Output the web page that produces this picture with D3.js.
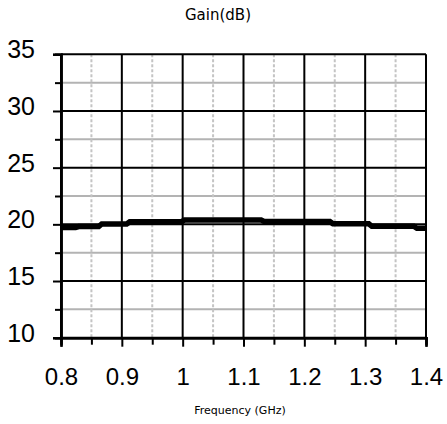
<!DOCTYPE html>
<html><head><meta charset="utf-8">
<script src="https://cdn.jsdelivr.net/npm/d3@7"></script>
<style>html,body{margin:0;padding:0;background:#fff;}svg{display:block;}</style>
</head><body>
<script>
const title = "Gain(dB)";
const xTitle = "Frequency (GHz)";
const xTicks = [0.8, 0.9, 1.0, 1.1, 1.2, 1.3, 1.4];
const xMinorTicks = [0.85, 0.95, 1.05, 1.15, 1.25, 1.35];
const yTicks = [10, 15, 20, 25, 30, 35];
const yMinorTicks = [12.5, 17.5, 22.5, 27.5, 32.5];
const freq = [0.800, 0.824, 0.829, 0.862, 0.867, 0.908, 0.913, 0.998, 1.003, 1.129, 1.134, 1.242, 1.247, 1.306, 1.311, 1.380, 1.385, 1.400];
const gain = [19.72, 19.72, 19.80, 19.80, 20.03, 20.03, 20.23, 20.23, 20.38, 20.38, 20.25, 20.25, 20.05, 20.05, 19.83, 19.83, 19.65, 19.65];

const W = 447, H = 424;
const L = 61, R = 426, T = 54.3, B = 337.7;
const svg = d3.select("body").append("svg").attr("width", W).attr("height", H);
const x = d3.scaleLinear().domain([0.8, 1.4]).range([L, R]);
const y = d3.scaleLinear().domain([10, 35]).range([B, T]);

// minor grids
svg.append("g").selectAll("line").data(yMinorTicks).join("line")
  .attr("x1", L).attr("x2", R).attr("y1", d => y(d)).attr("y2", d => y(d))
  .attr("stroke", "#b3b3b3").attr("stroke-width", 2);
svg.append("g").selectAll("line").data(xMinorTicks).join("line")
  .attr("x1", d => x(d)).attr("x2", d => x(d)).attr("y1", T).attr("y2", B)
  .attr("stroke", "#c4c4c4").attr("stroke-width", 2).attr("stroke-dasharray", "3,2");
// major grids
svg.append("g").selectAll("line").data(yTicks).join("line")
  .attr("x1", L).attr("x2", R).attr("y1", d => y(d)).attr("y2", d => y(d))
  .attr("stroke", "#000").attr("stroke-width", 2);
svg.append("g").selectAll("line").data(xTicks).join("line")
  .attr("x1", d => x(d)).attr("x2", d => x(d)).attr("y1", T).attr("y2", B)
  .attr("stroke", "#000").attr("stroke-width", 2);

// axes
const yAxis = svg.append("g").attr("transform", `translate(${L},0)`)
  .call(d3.axisLeft(y).tickValues(yTicks).tickSize(8).tickFormat(d3.format("d")));
const yAxisMinor = svg.append("g").attr("transform", `translate(${L},0)`)
  .call(d3.axisLeft(y).tickValues(yMinorTicks).tickSize(6).tickFormat(""));
const xAxis = svg.append("g").attr("transform", `translate(0,${B})`)
  .call(d3.axisBottom(x).tickValues(xTicks).tickSize(9).tickFormat(d3.format("")));
const xAxisMinor = svg.append("g").attr("transform", `translate(0,${B})`)
  .call(d3.axisBottom(x).tickValues(xMinorTicks).tickSize(7).tickFormat(""));
[yAxis, yAxisMinor, xAxis, xAxisMinor].forEach(g => {
  g.select(".domain").attr("stroke", "#000").attr("stroke-width", 2.5);
  g.selectAll(".tick line").attr("stroke", "#000").attr("stroke-width", 2);
});
yAxis.selectAll(".tick text").attr("font-family", "Liberation Sans, Arial, sans-serif")
  .attr("font-size", 25).attr("fill", "#000").attr("x", -26).attr("dy", "3.5px");
xAxis.selectAll(".tick text").attr("font-family", "Liberation Sans, Arial, sans-serif")
  .attr("font-size", 24).attr("fill", "#000").attr("y", 30).attr("dy", "0.71em");

// data line
const pts = freq.map((f, i) => [f, gain[i]]);
svg.append("path").datum(pts)
  .attr("d", d3.line().x(d => x(d[0])).y(d => y(d[1])))
  .attr("fill", "none").attr("stroke", "#000").attr("stroke-width", 5.5)
  .attr("stroke-linejoin", "miter");

// titles
svg.append("text").attr("x", 218).attr("y", 20).attr("text-anchor", "middle")
  .attr("font-family", "DejaVu Sans, sans-serif").attr("font-size", 15).text(title);
svg.append("text").attr("x", 240).attr("y", 414).attr("text-anchor", "middle")
  .attr("font-family", "DejaVu Sans, sans-serif").attr("font-size", 11).text(xTitle);
</script>
</body></html>
